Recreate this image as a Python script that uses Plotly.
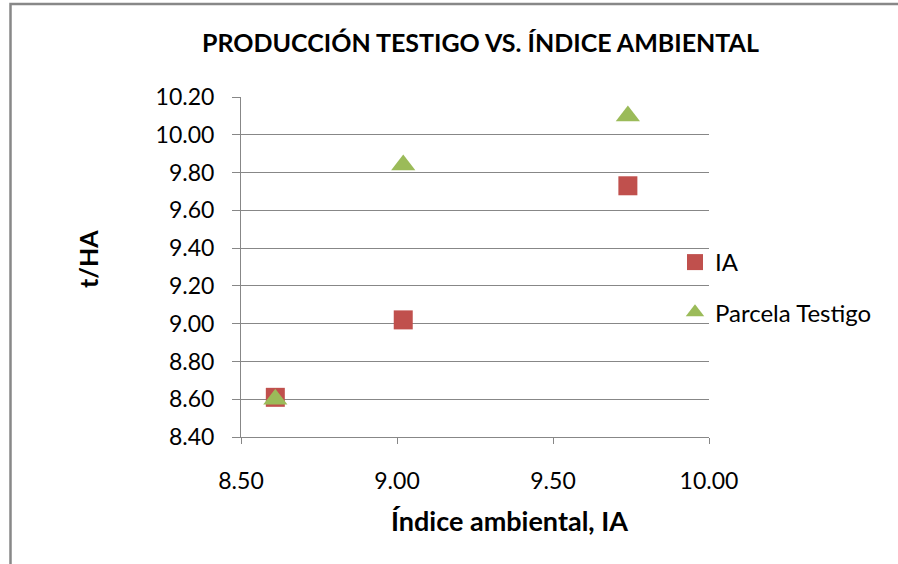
import plotly.graph_objects as go

# Data
ia_x = [8.61, 9.02, 9.74]
ia_y = [8.61, 9.02, 9.73]
testigo_x = [8.61, 9.02, 9.74]
testigo_y = [8.60, 9.84, 10.10]
x_ticks = [8.50, 9.00, 9.50, 10.00]
y_ticks = [8.40, 8.60, 8.80, 9.00, 9.20, 9.40, 9.60, 9.80, 10.00, 10.20]

W, H = 898, 564
L, R, T, B = 241, 189, 97, 127
pw, ph = W - L - R, H - T - B

def px_x(p):
    return (p - L) / pw

def px_y(p):
    return (H - B - p) / ph

FONT = "Lato, 'Open Sans', sans-serif"
GRID = "#878787"

fig = go.Figure()
fig.add_trace(go.Scatter(
    x=ia_x, y=ia_y, mode="markers", name="IA", legendgroup="a",
    marker=dict(symbol="square", size=19, color="#C0504D",
                line=dict(width=0))))
fig.add_trace(go.Scatter(
    x=testigo_x, y=testigo_y, mode="markers", name="Parcela Testigo", legendgroup="b",
    marker=dict(symbol="triangle-up", size=21, color="#9BBB59",
                line=dict(width=0))))

fig.update_layout(
    width=W, height=H,
    margin=dict(l=L, r=R, t=T, b=B),
    paper_bgcolor="white", plot_bgcolor="white",
    font=dict(family=FONT, size=23, color="black"),
    showlegend=True,
    legend=dict(x=px_x(675), y=px_y(240), xanchor="left", yanchor="top",
                font=dict(size=24, family=FONT, color="black"),
                tracegroupgap=16, traceorder="grouped",
                bgcolor="rgba(0,0,0,0)", itemwidth=30),
    xaxis=dict(range=[8.5, 10.0], tickvals=x_ticks,
               ticktext=[f"{v:.2f}" for v in x_ticks],
               showgrid=False, zeroline=False,
               showline=True, linecolor=GRID, linewidth=1,
               ticks="outside", ticklen=6, tickcolor=GRID, tickwidth=1,
               ticklabelstandoff=17,
               tickfont=dict(size=23, family=FONT)),
    yaxis=dict(range=[8.4, 10.2], tickvals=y_ticks,
               ticktext=[f"{v:.2f}" for v in y_ticks],
               showgrid=True, gridcolor=GRID, gridwidth=1, zeroline=False,
               showline=True, linecolor=GRID, linewidth=1,
               ticks="outside", ticklen=8, tickcolor=GRID, tickwidth=1,
               ticklabelstandoff=13,
               tickfont=dict(size=23, family=FONT)),
    annotations=[
        dict(text="<b>PRODUCCIÓN TESTIGO VS. ÍNDICE AMBIENTAL</b>",
             xref="paper", yref="paper", x=px_x(480), y=px_y(42),
             xanchor="center", yanchor="middle", showarrow=False,
             font=dict(size=25, family=FONT, color="black")),
        dict(text="<b>Índice ambiental, IA</b>",
             xref="paper", yref="paper", x=px_x(509), y=px_y(520),
             xanchor="center", yanchor="middle", showarrow=False,
             font=dict(size=27, family=FONT, color="black")),
        dict(text="<b>t/HA</b>", textangle=-90,
             xref="paper", yref="paper", x=px_x(88), y=px_y(259),
             xanchor="center", yanchor="middle", showarrow=False,
             font=dict(size=25, family=FONT, color="black")),
    ],
    shapes=[
        dict(type="rect", xref="paper", yref="paper",
             x0=px_x(10.5), x1=px_x(W + 20), y0=px_y(H + 20), y1=px_y(4),
             line=dict(color="#888888", width=2.5), fillcolor="rgba(0,0,0,0)",
             layer="below"),
    ],
)

fig.write_html(
    "out.html",
    config={"displayModeBar": False},
    post_script="document.body.style.margin='0';document.body.style.overflow='hidden';",
)
